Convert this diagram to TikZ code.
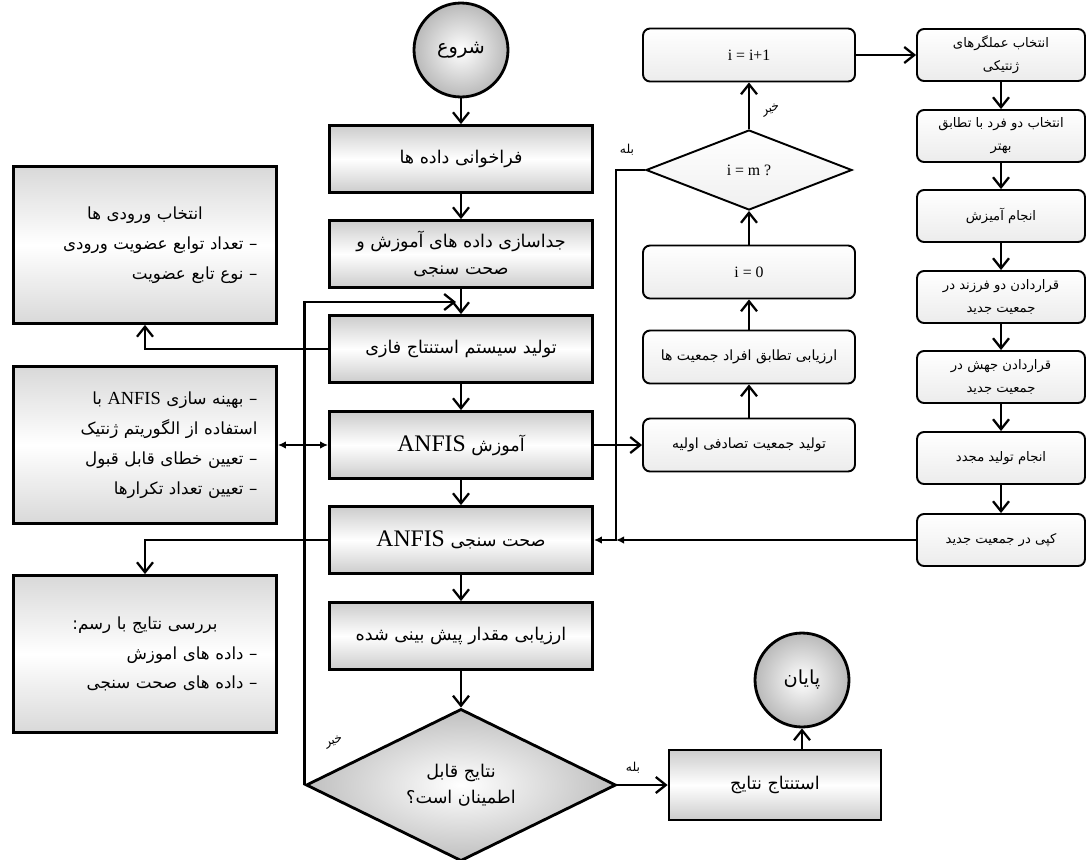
\documentclass[tikz,border=0pt]{standalone}
\usepackage{fontspec}
\setmainfont{Liberation Serif}
\newfontfamily\fa[Script=Arabic]{DejaVu Sans}
\TeXXeTstate=1
\usetikzlibrary{positioning,arrows.meta,shapes.geometric}
\newcommand{\rtext}[1]{\beginR #1\endR}
\newcommand{\anfis}[1]{\beginL{\rmfamily\fontsize{#1}{#1}\selectfont ANFIS}\endL}
\tikzset{
  line/.style={line width=1.3pt},
  mainbox/.style={rectangle,draw,line width=1.6pt,minimum width=5.26cm,minimum height=1.34cm,
    top color=gray!40,bottom color=gray!40,middle color=white,
    font=\fa\fontsize{10}{15}\selectfont,align=center,inner sep=2pt},
  sidebox/.style={rectangle,draw,line width=1.6pt,minimum width=5.26cm,minimum height=3.14cm,
    top color=gray!30,bottom color=gray!30,middle color=white,
    font=\fa\fontsize{9.5}{17}\selectfont,text width=4.5cm,align=right},
  gabox/.style={rectangle,rounded corners=0.14cm,draw,line width=1.1pt,minimum width=4.24cm,
    minimum height=1.06cm,top color=white,bottom color=gray!15,
    font=\fa\fontsize{8}{10}\selectfont,align=center},
  opbox/.style={gabox,minimum width=3.36cm,minimum height=1.04cm,font=\fa\fontsize{7.5}{13}\selectfont},
  chkbox/.style={diamond,draw,line width=1.1pt,minimum width=4.12cm,minimum height=1.6cm,
    top color=white,bottom color=gray!12,inner sep=0pt},
  endpoint/.style={circle,draw,line width=1.6pt,minimum size=1.88cm,inner color=white,
    outer color=gray!55,font=\fa\fontsize{11}{13}\selectfont},
  decbox/.style={diamond,draw,line width=1.6pt,minimum width=6.2cm,minimum height=2.88cm,
    inner color=white,outer color=gray!50,font=\fa\fontsize{10}{15}\selectfont,align=center,inner sep=0pt},
  tag/.style={font=\fa\fontsize{7}{8}\selectfont,inner sep=1pt},
  latin/.style={font=\rmfamily\fontsize{9}{10}\selectfont},
  small/.style={-{Latex[length=1.6mm,width=1.5mm]}}
}

\begin{document}
\begin{tikzpicture}[x=0.02cm,y=-0.02cm,>={Straight Barb[length=2mm,width=3.2mm]}]
\useasboundingbox (0,0) rectangle (1091,859);
% main column
\node[endpoint] (start) at (461,50) {\rtext{شروع}};
\node[mainbox] (load) at (461,159) {\rtext{فراخوانی داده ها}};
\node[mainbox] (split) at (461,254) {\rtext{جداسازی داده های آموزش و}\\\rtext{صحت سنجی}};
\node[mainbox] (fis) at (461,349) {\rtext{تولید سیستم استنتاج فازی}};
\node[mainbox] (train) at (461,445) {\rtext{آموزش \anfis{13.5}}};
\node[mainbox] (valid) at (461,540) {\rtext{صحت سنجی \anfis{13.5}}};
\node[mainbox] (evalp) at (461,636) {\rtext{ارزیابی مقدار پیش بینی شده}};
\node[decbox] (decide) at (461,785) {\rtext{نتایج قابل}\\\rtext{اطمینان است؟}};
\node[mainbox,minimum width=4.24cm,minimum height=1.4cm] (conc) at (775,785) {\rtext{استنتاج نتایج}};
\node[endpoint] (stop) at (802,680) {\rtext{پایان}};
% side boxes
\node[sidebox] (inA) at (145,245) {\hfill\rtext{انتخاب ورودی ها}\hfill\null\\\rtext{– تعداد توابع عضویت ورودی}\\\rtext{– نوع تابع عضویت}};
\node[sidebox] (optB) at (145,445) {\rtext{– بهینه سازی \anfis{10.5} با}\\\rtext{استفاده از الگوریتم ژنتیک}\\\rtext{– تعیین خطای قابل قبول}\\\rtext{– تعیین تعداد تکرارها}};
\node[sidebox] (resC) at (145,654) {\hfill\rtext{بررسی نتایج با رسم:}\hfill\null\\\rtext{– داده های اموزش}\\\rtext{– داده های صحت سنجی}};
% genetic algorithm
\node[gabox,latin] (inc) at (749,55) {i = i+1};
\node[chkbox,latin] (check) at (749,170) {i = m ?};
\node[gabox,latin] (zero) at (749,272) {i = 0};
\node[gabox] (fitn) at (749,357) {\rtext{ارزیابی تطابق افراد جمعیت ها}};
\node[gabox] (init) at (749,445) {\rtext{تولید جمعیت تصادفی اولیه}};
\node[opbox] (op1) at (1001,55) {\rtext{انتخاب عملگرهای}\\\rtext{ژنتیکی}};
\node[opbox] (op2) at (1001,136) {\rtext{انتخاب دو فرد با تطابق}\\\rtext{بهتر}};
\node[opbox] (op3) at (1001,216) {\rtext{انجام آمیزش}};
\node[opbox] (op4) at (1001,297) {\rtext{قراردادن دو فرزند در}\\\rtext{جمعیت جدید}};
\node[opbox] (op5) at (1001,377) {\rtext{قراردادن جهش در}\\\rtext{جمعیت جدید}};
\node[opbox] (op6) at (1001,458) {\rtext{انجام تولید مجدد}};
\node[opbox] (op7) at (1001,540) {\rtext{کپی در جمعیت جدید}};
\node[tag] (yes1) at (627,150) {\rtext{بله}};
\node[tag,rotate=20] (no1) at (771,110) {\rtext{خیر}};
\node[tag] (yes2) at (633,768) {\rtext{بله}};
\node[tag,rotate=20] (no2) at (334,742) {\rtext{خیر}};
\coordinate (back) at (456,302);
\coordinate (bus) at (616,540);
% connectors
\foreach \a/\b in {start/load,load/split,split/fis,fis/train,train/valid,valid/evalp,evalp/decide}
  \draw[->,line] (\a) -- (\b);
\foreach \a/\b in {init/fitn,fitn/zero,zero/check,check/inc}
  \draw[->,line] (\a) -- (\b);
\foreach \a/\b in {1/2,2/3,3/4,4/5,5/6,6/7}
  \draw[->,line] (op\a) -- (op\b);
\draw[->,line] (decide.west) -- (decide.west |- back) -- (back);
\draw[->,line] (decide.east) -- (conc.west);
\draw[->,line] (stop.south |- conc.north) -- (stop.south);
\draw[->,line] (fis.west) -| (inA.south);
\draw[{Latex[length=1.6mm,width=1.5mm]}-{Latex[length=1.6mm,width=1.5mm]},line] (optB.east) -- (train.west);
\draw[->,line] (valid.west) -| (resC.north);
\draw[->,line] (train.east) -- (init.west);
\draw[->,line] (inc.east) -- (op1.west);
\draw[small,line] (check.west) -| (bus) -- (valid.east);
\draw[small,line] (op7.west) -- (bus);
\end{tikzpicture}
\end{document}
